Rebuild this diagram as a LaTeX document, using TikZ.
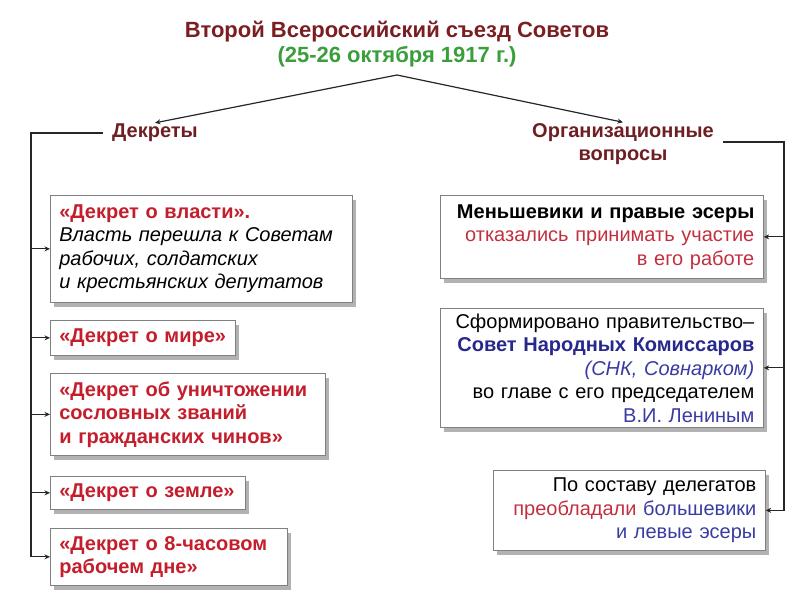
\documentclass[tikz,border=0pt]{standalone}
\usepackage{fontspec}
\setmainfont{Liberation Sans}
\usetikzlibrary{shadows,arrows.meta}
\definecolor{titred}{HTML}{7A1E22}
\definecolor{hdred}{HTML}{6E1F24}
\definecolor{dred}{HTML}{C41E2C}
\definecolor{tred}{HTML}{C23040}
\definecolor{tgreen}{HTML}{3A9E3A}
\definecolor{tblue}{HTML}{26288C}
\definecolor{lblue}{HTML}{3A3CA0}
\begin{document}
\begin{tikzpicture}[x=1pt,y=-1pt,
  box/.style={draw=black!50, line width=0.7pt, fill=white,
    drop shadow={shadow xshift=4pt, shadow yshift=-5pt, fill=black!30, opacity=1},
    inner xsep=9pt, inner ysep=2pt, anchor=north west,
    font=\fontsize{20}{23.5}\selectfont},
  lbox/.style={box, align=left},
  rbox/.style={box, align=right},
  heading/.style={font=\fontsize{20}{23}\selectfont\bfseries, text=hdred, align=center, inner xsep=9pt, inner ysep=1pt},
  conn/.style={draw=black!85, line width=1.2pt},
  arr/.style={conn, -{Stealth[length=5.5pt,width=5pt]}}
]
\useasboundingbox (0,0) rectangle (800,600);

\node[font=\fontsize{22}{25}\selectfont\bfseries, align=center] (title) at (397,44)
  {\textcolor{titred}{Второй Всероссийский съезд Советов}\\\textcolor{tgreen}{(25-26 октября 1917 г.)}};
\coordinate (apex) at (397,75);

\node[heading] (dek) at (155,133) {Декреты};
\node[heading] (org) at (623,144) {Организационные\\вопросы};

\draw[arr] (apex) -- (dek.north);
\draw[arr] (apex) -- (org.north);

% left boxes
\node[lbox, text width=284pt, minimum height=107pt] (L1) at (50,195)
  {\textcolor{dred}{\bfseries «Декрет о власти».}\\\itshape Власть перешла к Советам\\\itshape рабочих, солдатских\\\itshape и крестьянских депутатов};
\node[lbox, text width=167pt, minimum height=35pt] (L2) at (50,320)
  {\textcolor{dred}{\bfseries «Декрет о мире»}};
\node[lbox, text width=257pt, minimum height=82pt] (L3) at (50,373)
  {\color{dred}\bfseries «Декрет об уничтожении\\сословных званий\\и гражданских чинов»};
\node[lbox, text width=177pt, minimum height=33pt] (L4) at (50,476)
  {\textcolor{dred}{\bfseries «Декрет о земле»}};
\node[lbox, text width=219pt, minimum height=57pt] (L5) at (50,528)
  {\color{dred}\bfseries «Декрет о 8-часовом\\рабочем дне»};

% right boxes
\node[rbox, text width=305pt, minimum height=83pt] (R1) at (440,195)
  {{\bfseries Меньшевики и правые эсеры}\\\textcolor{tred}{отказались принимать участие}\\\textcolor{tred}{в его работе}};
\node[rbox, text width=305pt, minimum height=119pt] (R2) at (440,308)
  {Сформировано правительство–\\\textcolor{tblue}{\bfseries Совет Народных Комиссаров}\\\textcolor{lblue}{\itshape (СНК, Совнарком)}\\во главе с его председателем\\\textcolor{lblue}{В.И. Лениным}};
\node[rbox, text width=254pt, minimum height=80pt] (R3) at (493,470)
  {По составу делегатов\\\textcolor{tred}{преобладали} \textcolor{lblue}{большевики}\\\textcolor{lblue}{и левые эсеры}};

% spines
\coordinate (spL) at (31,557);
\coordinate (spR) at (784,511);
\draw[conn] (dek.west) -| (spL);
\draw[conn] (org.east |- 0,142) -| (spR);
\foreach \b in {L1,L2,L3,L4,L5}
  \draw[arr] (spL |- \b.west) -- (\b.west);
\foreach \b in {R1,R2,R3}
  \draw[arr] (spR |- \b.east) -- (\b.east);
\end{tikzpicture}
\end{document}
